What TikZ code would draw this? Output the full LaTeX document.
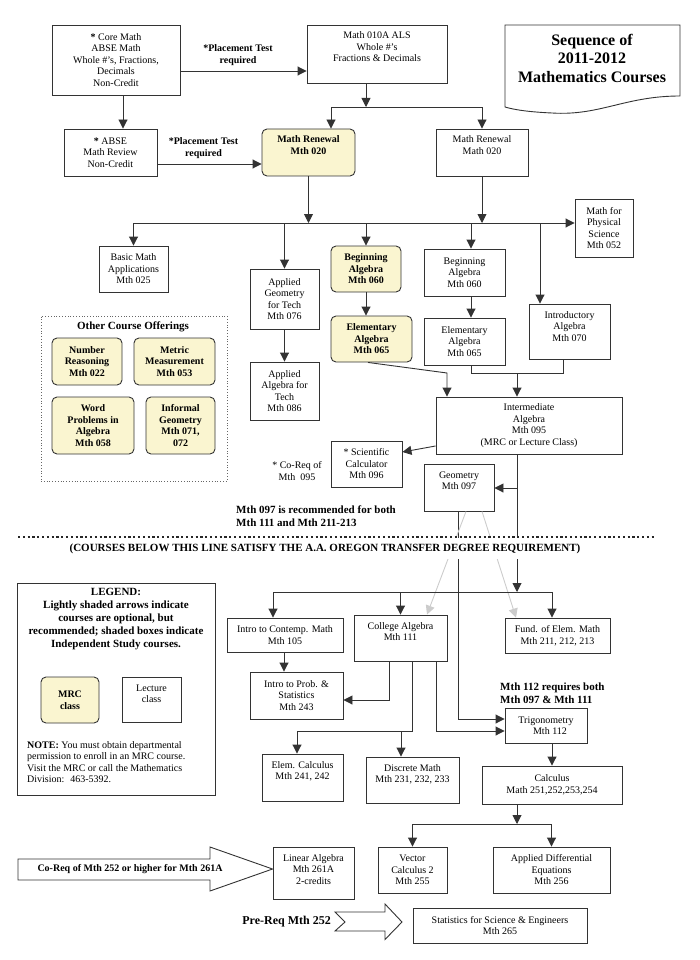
\documentclass[tikz,border=0pt]{standalone}
\usepackage{fontspec}
\setmainfont{Liberation Serif}
\usetikzlibrary{arrows.meta,calc,positioning}
\definecolor{mrcfill}{RGB}{250,245,208}
\newcommand{\toptext}[3]{\parbox[c][#2pt][t]{#1pt}{\centering\rule{0pt}{11pt}#3}}

\begin{document}
\begin{tikzpicture}[x=1pt, y=-1pt, every node/.style={font=\fontsize{10}{11.5}\selectfont, inner sep=3pt, align=center}]
  \tikzset{CourseStyle/.style={draw=black!80, line width=0.9pt, fill=white},
    MrcStyle/.style={CourseStyle, fill=mrcfill, rounded corners=5pt,
      font=\fontsize{10}{11.5}\selectfont\bfseries},
    NoteStyle/.style={font=\fontsize{11}{13}\selectfont\bfseries},
    LineStyle/.style={draw=black!80, line width=0.9pt},
    ArrowStyle/.style={LineStyle, -{Triangle[length=9pt,width=9pt]}},
    LightStyle/.style={draw=black!20, line width=0.9pt, -{Triangle[length=9pt,width=9pt]}}}
  \useasboundingbox (0,0) rectangle (700,960);

  % title
  \draw[LineStyle] (505,25) -- (680,25) -- (680,96) .. controls (625,96) and (600,116) .. (552,113)
    .. controls (530,112) and (515,110) .. (505,107) -- cycle;
  \node[font=\fontsize{16}{18.5}\selectfont\bfseries] (title) at (592,58) {Sequence of\\2011-2012\\Mathematics Courses};

  % non-credit and renewal courses
  \node[CourseStyle, minimum width=128, minimum height=70] (core) at (116,60)
    {\textbf{*} Core Math\\ABSE Math\\Whole \#’s, Fractions,\\Decimals\\Non-Credit};
  \node[CourseStyle] (als) at (377,54) {\toptext{134}{52}{Math 010A ALS\\Whole \#’s\\Fractions \& Decimals}};
  \node[CourseStyle, minimum width=93, minimum height=47] (abse) at (110.5,152.5) {\textbf{*} ABSE\\Math Review\\Non-Credit};
  \node[MrcStyle] (mr020) at (308.5,152.5) {\toptext{87}{41}{Math Renewal\\Mth 020}};
  \node[CourseStyle] (mr020b) at (482,152.5) {\toptext{86}{41}{Math Renewal\\Math 020}};
  \node[font=\fontsize{10}{12}\selectfont\bfseries] (place1) at (238,55) {*Placement Test\\required};
  \node[font=\fontsize{10}{12}\selectfont\bfseries] (place2) at (203.5,148) {*Placement Test\\required};

  % developmental courses
  \node[CourseStyle, minimum width=69, minimum height=46] (basic) at (133.5,269) {Basic Math\\Applications\\Mth 025};
  \node[CourseStyle, minimum width=69, minimum height=60] (appgeo) at (284.5,299) {Applied\\Geometry\\for Tech\\Mth 076};
  \node[CourseStyle, minimum width=69, minimum height=58] (appalg) at (284.5,391) {Applied\\Algebra for\\Tech\\Mth 086};
  \node[MrcStyle, minimum width=70, minimum height=46] (begS) at (366,269) {Beginning\\Algebra\\Mth 060};
  \node[MrcStyle, minimum width=81, minimum height=46] (elemS) at (371.5,339) {Elementary\\Algebra\\Mth 065};
  \node[CourseStyle, minimum width=81, minimum height=47] (begP) at (464.5,272.5) {Beginning\\Algebra\\Mth 060};
  \node[CourseStyle, minimum width=81, minimum height=47] (elemP) at (464.5,341.5) {Elementary\\Algebra\\Mth 065};
  \node[CourseStyle] (intro) at (569.5,331.5) {\toptext{75}{49}{Introductory\\Algebra\\Mth 070}};
  \node[CourseStyle, minimum width=58, minimum height=58] (phys) at (604,228) {Math for\\Physical\\Science\\Mth 052};
  \node[CourseStyle, minimum width=186, minimum height=57] (inter) at (529,425.5)
    {Intermediate\\Algebra\\Mth 095\\(MRC or Lecture Class)};
  \node[CourseStyle, minimum width=71, minimum height=46] (sci) at (366.5,464) {* Scientific\\Calculator\\Mth 096};
  \node[font=\fontsize{10}{11.5}\selectfont] (coreq095) at (297,471) {* Co-Req of\\Mth~~095};
  \node[CourseStyle] (geo) at (459,487.5) {\toptext{64}{41}{Geometry\\Mth 097}};

  % other course offerings
  \node[draw=black!60, dotted, line width=0.8pt, minimum width=186, minimum height=165] (other) at (134,398.5) {};
  \node[NoteStyle] (othertitle) at (133,327) {Other Course Offerings};
  \node[MrcStyle, minimum width=70, minimum height=47] (numreas) at (87,361.5) {Number\\Reasoning\\Mth 022};
  \node[MrcStyle, minimum width=81, minimum height=47] (metric) at (174.5,361.5) {Metric\\Measurement\\Mth 053};
  \node[MrcStyle, minimum width=82, minimum height=57] (wordprob) at (93,425.5) {Word\\Problems in\\Algebra\\Mth 058};
  \node[MrcStyle, minimum width=69, minimum height=57] (infgeo) at (180.5,425.5) {Informal\\Geometry\\Mth 071,\\072};

  % transfer courses
  \node[NoteStyle, align=left, anchor=west] (rec097) at (233,516.5) {Mth 097 is recommended for both\\Mth 111 and Mth 211-213};
  \node[CourseStyle, minimum width=116, minimum height=34] (icm) at (285,635) {Intro to Contemp. Math\\Mth 105};
  \node[CourseStyle, minimum width=93, minimum height=47] (ips) at (296.5,695.5) {Intro to Prob. \&\\Statistics\\Mth 243};
  \node[CourseStyle] (calg) at (400.5,638) {\toptext{87}{40}{College Algebra\\Mth 111}};
  \node[CourseStyle, minimum width=105, minimum height=35] (fund) at (557.5,635.5) {Fund. of Elem. Math\\Mth 211, 212, 213};
  \node[NoteStyle, align=left, anchor=west] (note112) at (497,693) {Mth 112 requires both\\Mth 097 \& Mth 111};
  \node[CourseStyle, minimum width=82, minimum height=35] (trig) at (546,725.5) {Trigonometry\\\hspace{8pt}Mth 112};
  \node[CourseStyle] (ecalc) at (302.5,777.5) {\toptext{75}{41}{Elem. Calculus\\Mth 241, 242}};
  \node[CourseStyle] (disc) at (412.5,780) {\toptext{87}{40}{Discrete Math\\Mth 231, 232, 233}};
  \node[CourseStyle, minimum width=140, minimum height=38] (calc) at (552,785) {Calculus\\Math 251,252,253,254};
  \node[CourseStyle] (linalg) at (313.5,873) {\toptext{75}{46}{Linear Algebra\\Mth 261A\\2-credits}};
  \node[CourseStyle, minimum width=69, minimum height=46] (vec) at (412.5,870) {Vector\\Calculus 2\\Mth 255};
  \node[CourseStyle, minimum width=117, minimum height=46] (ade) at (551.5,870) {Applied Differential\\Equations\\Mth 256};
  \node[CourseStyle, minimum width=174, minimum height=35] (stat) at (500,925.5) {Statistics for Science \& Engineers\\Mth 265};

  % legend
  \node[CourseStyle, minimum width=198, minimum height=212] (legend) at (116,689) {};
  \node[NoteStyle] (legendtext) at (116,619.5) {LEGEND:\\Lightly shaded arrows indicate\\courses are optional, but\\recommended; shaded boxes indicate\\Independent Study courses.};
  \node[MrcStyle, minimum width=58, minimum height=46] (mrckey) at (70,700) {MRC\\class};
  \node[CourseStyle] (lecturekey) at (151.5,699.5) {\toptext{53}{39}{Lecture\\class}};
  \node[font=\fontsize{10}{11.5}\selectfont, align=left, anchor=west] (note) at (24,762)
    {\textbf{NOTE:} You must obtain departmental\\permission to enroll in an MRC course.\\Visit the MRC or call the Mathematics\\Division:~ 463-5392.};

  % connectors, top part
  \draw[ArrowStyle] (core.east |- 0,71) -- (als.west |- 0,71);
  \draw[ArrowStyle] (core.south -| 123,0) -- (abse.north -| 123,0);
  \draw[ArrowStyle] (abse.east |- 0,164) -- (mr020.west |- 0,164);
  \coordinate (topbus) at (366,107);
  \draw[ArrowStyle] (als.south -| topbus) -- (topbus);
  \draw[ArrowStyle] (topbus) -| (mr020.north -| 331,0);
  \draw[ArrowStyle] (topbus) -| (mr020b.north);
  \coordinate (bus1) at (308,223);
  \draw[ArrowStyle] (mr020.south) -- (mr020.south |- bus1);
  \draw[ArrowStyle] (mr020b.south) -- (mr020b.south |- bus1);
  \draw[ArrowStyle] (basic.north |- bus1) -- (phys.west |- bus1);
  \draw[ArrowStyle] (basic.north |- bus1) -- (basic.north);
  \draw[ArrowStyle] (appgeo.north |- bus1) -- (appgeo.north);
  \draw[ArrowStyle] (begS.north |- bus1) -- (begS.north);
  \draw[ArrowStyle] (bus1 -| 471,0) -- (begP.north -| 471,0);
  \draw[ArrowStyle] (bus1 -| 540,0) -- (intro.north -| 540,0);
  \draw[ArrowStyle] (appgeo) -- (appalg);
  \draw[ArrowStyle] (begS.south) -- (begS.south |- elemS.north);
  \draw[ArrowStyle] (begP.south -| 471,0) -- (elemP.north -| 471,0);
  \coordinate (join) at (447,373);
  \draw[ArrowStyle] (elemS.south -| 368,0) -- (join) -- (inter.north -| join);
  \draw[LineStyle] (elemP.south -| 471,0) |- (563,373) -- (intro.south -| 563,0);
  \draw[ArrowStyle] (517,373) -- (inter.north -| 517,0);
  \draw[ArrowStyle] (inter.west |- 0,446) -- (sci.east |- 0,452);

  % connectors, lower part
  \coordinate (bus2) at (517,592);
  \draw[ArrowStyle] (inter.south -| bus2) -- (bus2);
  \draw[ArrowStyle] (bus2 |- 0,488) -- (geo.east |- 0,488);
  \draw[ArrowStyle] (geo.south -| 458,0) |- (trig.west |- 0,719);
  \draw[LightStyle] (geo.south -| 466,0) -- (calg.north -| 427,0);
  \draw[LightStyle] (geo.south -| 482,0) -- (fund.north -| 516,0);
  \draw[LineStyle] (bus2 -| 273,0) -- (bus2 -| 552,0);
  \draw[ArrowStyle] (bus2 -| 273,0) -- (icm.north -| 273,0);
  \draw[ArrowStyle] (calg.north |- bus2) -- (calg.north);
  \draw[ArrowStyle] (bus2 -| 552,0) -- (fund.north -| 552,0);
  \draw[ArrowStyle] (icm.south -| 284,0) -- (ips.north -| 284,0);
  \draw[ArrowStyle] (calg.south -| 389,0) |- (ips.east |- 0,700);
  \draw[ArrowStyle] (calg.south -| 412,0) |- (297,731) -- (ecalc.north -| 297,0);
  \draw[ArrowStyle] (401,731) -- (disc.north -| 401,0);
  \draw[ArrowStyle] (calg.south -| 436,0) |- (trig.west |- 0,731);
  \draw[ArrowStyle] (trig.south -| calc.north) -- (calc.north);
  \coordinate (bus3) at (517,824);
  \draw[ArrowStyle] (calc.south -| bus3) -- (bus3);
  \draw[ArrowStyle] (bus3) -| (vec.north);
  \draw[ArrowStyle] (bus3) -| (ade.north);

  % block arrows
  \draw[LineStyle, fill=white] (18,859) -- (210,859) -- (210,847) -- (linalg.west |- 0,869)
    -- (210,891) -- (210,880) -- (18,880) -- cycle;
  \node[font=\fontsize{10}{11}\selectfont\bfseries] (coreqtext) at (130,869.5) {Co-Req of Mth 252 or higher for Mth 261A};
  \draw[LineStyle, fill=white] (335,912) -- (385,912) -- (385,904) -- (402,922) -- (385,939.5)
    -- (385,931) -- (335,931) -- (345,922) -- cycle;
  \node[font=\fontsize{12}{14}\selectfont\bfseries, anchor=east] (prereq) at (334,922) {Pre-Req Mth 252};

  % dividing line
  \node[NoteStyle, fill=white, inner ysep=6pt] (banner) at (325,548.5)
    {(COURSES BELOW THIS LINE SATISFY THE A.A. OREGON TRANSFER DEGREE REQUIREMENT)};
  \draw[black!85, line width=2.2pt, dash pattern=on 2.2pt off 2.6pt] (18,537) -- (655,537);
\end{tikzpicture}
\end{document}
